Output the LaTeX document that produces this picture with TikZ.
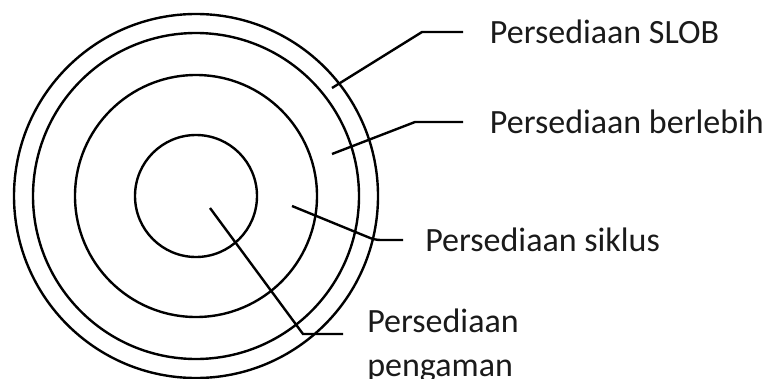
\documentclass[tikz,border=0pt]{standalone}
\usepackage{fontspec}
\setmainfont{Carlito}
\usetikzlibrary{positioning}
\definecolor{ringInk}{HTML}{000000}
\definecolor{labelInk}{HTML}{1A1A1A}
\tikzset{
  every picture/.style={font=\fontsize{25.5}{32.5}\selectfont, text=labelInk},
  ring line/.style={draw=ringInk, line width=1.8pt},
  leader line/.style={draw=ringInk, line width=1.8pt},
  layer label/.style={inner sep=0pt, anchor=west}
}

\begin{document}
\begin{tikzpicture}[x=0.75pt,y=-0.75pt]
  \useasboundingbox (0,0) rectangle (773,378);
  \coordinate (ctr) at (196,196);
  \foreach \r in {182,163,121,61}{
    \draw[ring line] (ctr) circle[radius=\r];
  }
  % leader points
  \coordinate (slobIn) at (332,88);
  \coordinate (slobBend) at (422,32);
  \coordinate (slobEnd) at (463,32);
  \coordinate (excessIn) at (332,154);
  \coordinate (excessBend) at (415,122);
  \coordinate (excessEnd) at (463,122);
  \coordinate (cycleIn) at (292,206);
  \coordinate (cycleBend) at (375,240);
  \coordinate (cycleEnd) at (403,240);
  \coordinate (safeIn) at (210,208);
  \coordinate (safeBend) at (303,334);
  \coordinate (safeEnd) at (343,334);
  % labels
  \node[layer label, right=20pt of slobEnd] (slob) {Persediaan SLOB};
  \node[layer label, right=20pt of excessEnd] (excess) {Persediaan berlebih};
  \node[layer label, right=16.5pt of cycleEnd] (cycle) {Persediaan siklus};
  \node[layer label, anchor=north west, align=left] (safety)
    at ([xshift=18pt,yshift=18.75pt]safeEnd) {Persediaan\\pengaman};
  \draw[leader line] (slobIn) -- (slobBend) -- (slobEnd);
  \draw[leader line] (excessIn) -- (excessBend) -- (excessEnd);
  \draw[leader line, rounded corners=4pt] (cycleIn) -- (cycleBend) -- (cycleEnd);
  \draw[leader line] (safeIn) -- (safeBend) -- (safeEnd);
\end{tikzpicture}
\end{document}
